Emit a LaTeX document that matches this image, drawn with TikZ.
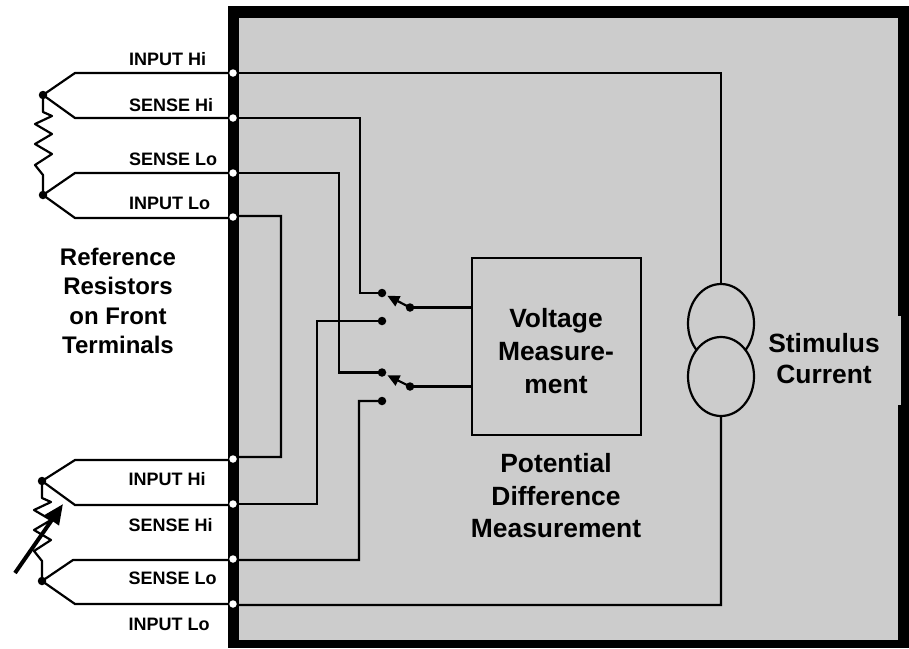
\documentclass[tikz,border=0pt]{standalone}
\usepackage{fontspec}
\setmainfont{Liberation Sans}
\usetikzlibrary{arrows.meta,shapes.geometric}
\definecolor{panel}{RGB}{204,204,204}
\tikzset{
  wire/.style={line width=2.2pt,line join=miter},
  term/.style={circle,fill=white,draw=none,minimum size=7.5pt,inner sep=0pt},
  dotnode/.style={circle,fill=black,draw=none,minimum size=8.5pt,inner sep=0pt},
  swdot/.style={circle,fill=black,draw=none,minimum size=8.5pt,inner sep=0pt},
  small/.style={anchor=base west,inner sep=0pt,font=\bfseries\fontsize{18}{20}\selectfont},
  big/.style={anchor=base,inner sep=0pt,font=\bfseries\fontsize{26.4}{30}\selectfont},
  ref/.style={anchor=base,inner sep=0pt,font=\bfseries\fontsize{24}{30}\selectfont},
  source/.style={ellipse,draw=black,line width=2.2pt,fill=panel,minimum width=66pt,minimum height=79pt,inner sep=0pt},
  swarrow/.style={wire,-{Triangle[length=12pt,width=11pt]},shorten >=6pt,shorten <=1pt},
}
\begin{document}
\begin{tikzpicture}[x=1pt,y=-1pt]
\useasboundingbox (0,0) rectangle (909,648);
% housing
\fill[black] (228,6) rectangle (909,648);
\fill[panel] (239,18) rectangle (898,640);
\fill[panel] (897,316) rectangle (901,405);
% terminals
\foreach \n/\yy in {a/73,b/118,c/173,d/217,e/459,f/504,g/559,h/604}{
  \coordinate (t\n) at (233,\yy);
}
% reference resistor
\node[dotnode] (ja) at (43,95) {};
\node[dotnode] (jb) at (43,195) {};
\coordinate (ka) at (75,73);
\coordinate (kb) at (75,118);
\coordinate (kc) at (75,173);
\coordinate (kd) at (75,218);
\draw[wire] (ta) -- (ka) -- (ja.center) -- (kb) -- (tb);
\draw[wire] (tc) -- (kc) -- (jb.center) -- (kd) -- (233,218);
\draw[wire,line join=round] (ja.center) -- (43,112) -- (52,116) -- (35,124) -- (52,134) -- (35,144) -- (52,154) -- (35,165) -- (43,175) -- (jb.center);
% device under test
\node[dotnode] (jc) at (42,481) {};
\node[dotnode] (jd) at (42,581) {};
\coordinate (ke) at (75,460);
\coordinate (kf) at (75,505);
\coordinate (kg) at (73,560);
\coordinate (kh) at (75,604);
\draw[wire] (te) -- (233,460) -- (ke) -- (jc.center) -- (kf) -- (233,505) -- (tf);
\draw[wire] (tg) -- (233,560) -- (kg) -- (jd.center) -- (kh) -- (th);
\draw[wire,line join=round] (jc.center) -- (42,498) -- (51,502) -- (34,510) -- (51,520) -- (34,530) -- (51,540) -- (34,551) -- (42,561) -- (jd.center);
\coordinate (va) at (15,573);
\coordinate (vb) at (63,504);
\draw[line width=4pt,-{Triangle[length=20pt,width=17pt]}] (va) -- (vb);
% measurement box
\node[draw=black,line width=2.2pt,fill=panel,minimum width=169pt,minimum height=177pt,inner sep=0pt] (vm) at (556.5,346.5) {};
% switches
\node[swdot] (s1) at (382,293) {};
\node[swdot] (s2) at (382,321) {};
\node[swdot] (s3) at (382,372.5) {};
\node[swdot] (s4) at (382,401) {};
\node[swdot] (c1) at (410,307.5) {};
\node[swdot] (c2) at (410,386.5) {};
\draw[wire] (c1.center) -- (vm.west |- c1);
\draw[wire] (c2.center) -- (vm.west |- c2);
\draw[swarrow] (c1.center) -- (s1.center);
\draw[swarrow] (c2.center) -- (s3.center);
% wires to the switches
\draw[wire] (tb) -- (360,118) -- (360,293) -- (s1.center);
\draw[wire] (tc) -- (339,173) -- (339,372.5) -- (s3.center);
\draw[wire] (td) -- (236,216) -- (281,216) -- (281,457) -- (236,457) -- (te);
\draw[wire] (tf) -- (317,504) -- (317,321) -- (s2.center);
\draw[wire] (tg) -- (236,560) -- (359,560) -- (359,401) -- (s4.center);
% stimulus source
\node[source] (i1) at (721,323.5) {};
\node[source] (i2) at (721,376.5) {};
\draw[wire] (ta) -- (721,73) -- (i1.north);
\draw[wire] (th) -- (236,605) -- (721,605) -- (i2.south);
% terminal dots on top
\foreach \n in {a,b,c,d,e,f,g,h}{
  \node[term] (o\n) at (t\n) {};
}
% labels
\node[small] (l1) at (129,65) {INPUT Hi};
\node[small] (l2) at (129,111) {SENSE Hi};
\node[small] (l3) at (129,165) {SENSE Lo};
\node[small] (l4) at (129,209) {INPUT Lo};
\node[small] (l5) at (128.5,485) {INPUT Hi};
\node[small] (l6) at (128.5,531) {SENSE Hi};
\node[small] (l7) at (128.5,584) {SENSE Lo};
\node[small] (l8) at (128.5,630) {INPUT Lo};
\node[ref] (r1) at (118,265) {Reference};
\node[ref] (r2) at (118,294) {Resistors};
\node[ref] (r3) at (118,324) {on Front};
\node[ref] (r4) at (118,353) {Terminals};
\node[big] (v1) at (556,327) {Voltage};
\node[big] (v2) at (556,360) {Measure-};
\node[big] (v3) at (556,393) {ment};
\node[big] (p1) at (556,472) {Potential};
\node[big] (p2) at (556,505) {Difference};
\node[big] (p3) at (556,537) {Measurement};
\node[big] (c1t) at (824,352) {Stimulus};
\node[big] (c2t) at (824,383) {Current};
\end{tikzpicture}
\end{document}
